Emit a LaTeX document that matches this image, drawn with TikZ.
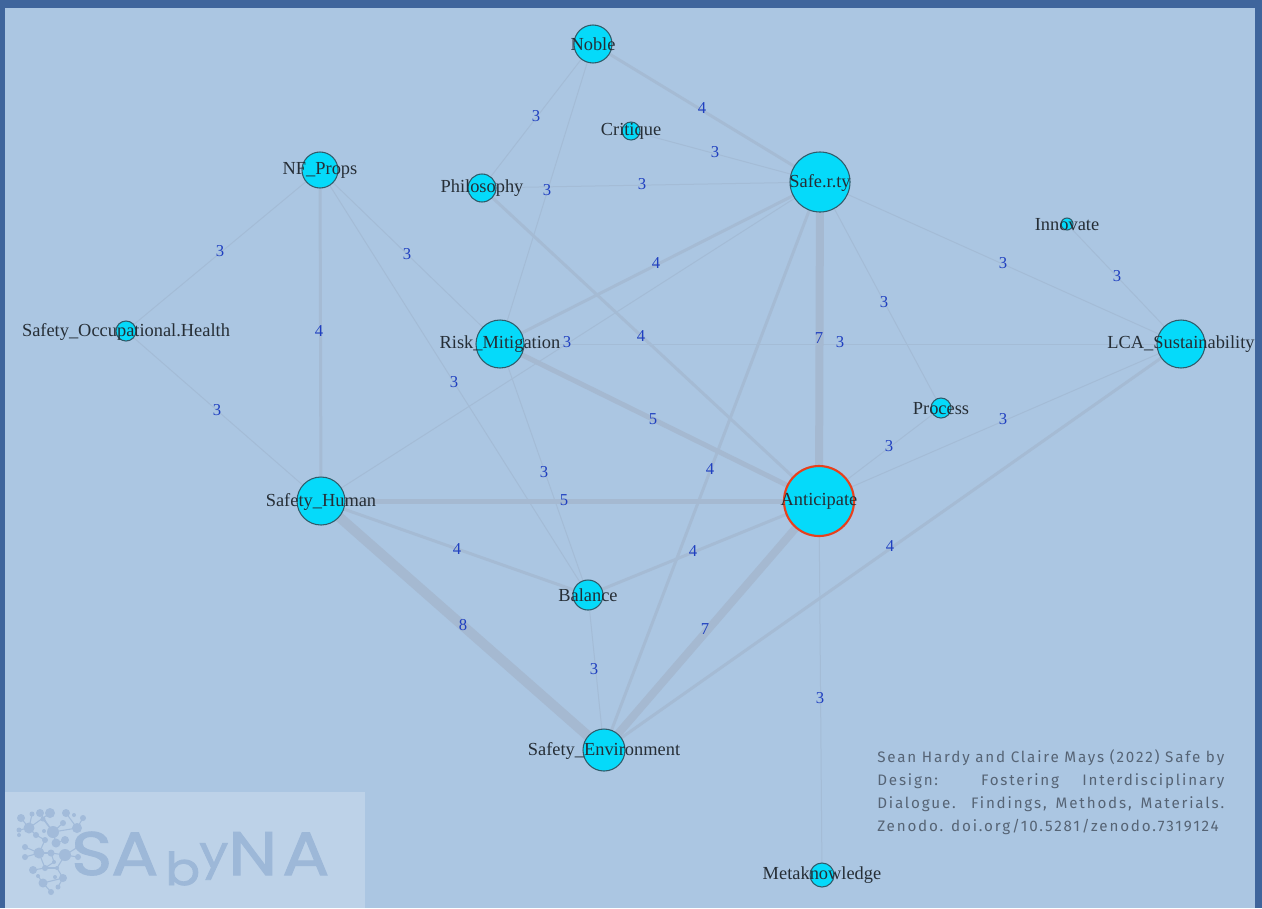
\documentclass[tikz,border=0pt]{standalone}
\usepackage{fontspec}
\setmainfont{Liberation Serif}
\newfontfamily\citefont[LetterSpace=12]{Fira Sans}
\newfontfamily\logofont[FakeBold=1.6,FakeStretch=1.14]{Poppins}
\usetikzlibrary{backgrounds}
\definecolor{framecol}{HTML}{3F659C}
\definecolor{bgcol}{HTML}{ABC6E2}
\definecolor{panelcol}{HTML}{BDD2E8}
\definecolor{logocol}{HTML}{9DB8D8}
\definecolor{dotcol}{HTML}{A2BBDA}
\definecolor{nodecol}{HTML}{05DAFA}
\definecolor{ringcol}{HTML}{2F5B6A}
\definecolor{hotcol}{HTML}{E8401C}
\definecolor{edgelight}{HTML}{A4BCD6}
\definecolor{edgemid}{HTML}{A5BBD4}
\definecolor{edgeheavy}{HTML}{A5B9D1}
\definecolor{numcol}{HTML}{1F3FC0}
\definecolor{namecol}{HTML}{262E36}
\definecolor{citecol}{HTML}{566475}
\tikzset{
  x=0.75pt,y=-0.75pt,
  gcircle/.style={circle,draw=ringcol,fill=nodecol,line width=0.8pt,inner sep=0pt},
  gname/.style={font=\fontsize{13.8}{15}\selectfont,text=namecol,inner sep=0pt,yshift=-0.4pt},
  gnum/.style={font=\fontsize{12.5}{14}\selectfont,text=numcol,inner sep=0pt},
  logoletter/.style={font=\logofont\fontsize{46}{50}\selectfont,text=logocol,inner sep=0pt,anchor=base west},
  logosmall/.style={font=\logofont\fontsize{34}{40}\selectfont,text=logocol,inner sep=0pt,anchor=base west},
  logodot/.style={fill=dotcol,draw=none},
  logoline/.style={draw=dotcol,line width=0.8pt},
  citeline/.style={font=\citefont\fontsize{11.4}{13}\selectfont,text=citecol,inner sep=0pt,anchor=base west},
}
\newcommand{\gnode}[6][gcircle]{%
  \node[#1,minimum size=#5*1.5pt,label={[gname,name=#2-text]center:#6}] (#2) at (#3,#4) {};}
\newcommand{\gedge}[6]{%
  \begin{pgfonlayer}{background}\draw[#4,line width=#3*0.75pt] (#1.center) -- (#2.center);\end{pgfonlayer}%
  \node[gnum,name=#1-#2-num] at (#6) {#5};}
\begin{document}
\begin{tikzpicture}
\useasboundingbox (0,0) rectangle (1262,908);
\begin{scope}[on background layer]
  \fill[framecol] (0,0) rectangle (1262,908);
  \fill[bgcol] (5,8) rectangle (1255,908);
\end{scope}

\gnode{Noble}{593}{44}{19}{Noble}
\gnode{Critique}{631}{131}{9}{Critique}
\gnode{NF}{320}{170}{18}{NF\_Props}
\gnode{Phil}{482}{188}{14}{Philosophy}
\gnode{Safe}{820}{182}{30}{Safe.r.ty}
\gnode{Innov}{1067}{224}{6}{Innovate}
\gnode{Occ}{126}{331}{10}{Safety\_Occupational.Health}
\gnode{Risk}{500}{344}{24}{Risk\_Mitigation}
\gnode{LCA}{1181}{344}{24}{LCA\_Sustainability}
\gnode{Proc}{941}{408}{10}{Process}
\gnode[gcircle,draw=hotcol,line width=1.6pt]{Antic}{819}{501}{35}{Anticipate}
\gnode{Human}{321}{501}{24}{Safety\_Human}
\gnode{Bal}{588}{595}{15}{Balance}
\gnode{Env}{604}{750}{21}{Safety\_Environment}
\gnode{Meta}{822}{875}{12}{Metaknowledge}

\gedge{Noble}{Safe}{3}{edgemid}{4}{702,108}
\gedge{Noble}{Phil}{1}{edgelight}{3}{536,116}
\gedge{Noble}{Risk}{1}{edgelight}{3}{547,190}
\gedge{Critique}{Safe}{1}{edgelight}{3}{715,152}
\gedge{Phil}{Safe}{1}{edgelight}{3}{642,184}
\gedge{Phil}{Antic}{3}{edgemid}{4}{641,336}
\gedge{NF}{Occ}{1}{edgelight}{3}{220,251}
\gedge{NF}{Human}{3}{edgemid}{4}{319,331}
\gedge{NF}{Risk}{1}{edgelight}{3}{407,254}
\gedge{NF}{Bal}{1}{edgelight}{3}{454,382}
\gedge{Occ}{Human}{1}{edgelight}{3}{217,410}
\gedge{Risk}{Safe}{3}{edgemid}{4}{656,263}
\gedge{Risk}{LCA}{1}{edgelight}{3}{840,342}
\gedge{Human}{Safe}{1}{edgelight}{3}{567,342}
\gedge{Safe}{Antic}{8}{edgeheavy}{7}{819,338}
\gedge{Safe}{LCA}{1}{edgelight}{3}{1003,263}
\gedge{Safe}{Proc}{1}{edgelight}{3}{884,302}
\gedge{Safe}{Env}{3}{edgemid}{4}{710,469}
\gedge{Innov}{LCA}{1}{edgelight}{3}{1117,276}
\gedge{Risk}{Antic}{5}{edgeheavy}{5}{653,419}
\gedge{Risk}{Bal}{1}{edgelight}{3}{544,472}
\gedge{Proc}{Antic}{1}{edgelight}{3}{889,446}
\gedge{LCA}{Antic}{1}{edgelight}{3}{1003,419}
\gedge{LCA}{Env}{3}{edgemid}{4}{890,546}
\gedge{Human}{Antic}{5}{edgeheavy}{5}{564,500}
\gedge{Human}{Bal}{3}{edgemid}{4}{457,549}
\gedge{Human}{Env}{10}{edgeheavy}{8}{463,625}
\gedge{Bal}{Antic}{3}{edgemid}{4}{693,551}
\gedge{Bal}{Env}{1}{edgelight}{3}{594,669}
\gedge{Antic}{Env}{8}{edgeheavy}{7}{705,629}
\gedge{Antic}{Meta}{1}{edgelight}{3}{820,698}

% citation
\node[citeline] (cite1) at (877,762) {\makebox[260.25pt][s]{Sean Hardy and Claire Mays (2022) Safe by}};
\node[citeline] (cite2) at (877,785) {\makebox[260.25pt][s]{Design: Fostering Interdisciplinary}};
\node[citeline] (cite3) at (877,808) {\makebox[260.25pt][s]{Dialogue. Findings, Methods, Materials.}};
\node[citeline] (cite4) at (877,831) {Zenodo. doi.org/10.5281/zenodo.7319124};

% logo panel
\fill[panelcol] (5,792) rectangle (365,908);
\foreach \a/\b/\c/\d in {40/813/53/832,50/813/29/828,32/814/29/828,21/818/29/828,43/819/53/832,53/832/77/828,66/813/77/828,63/823/53/832,83/818/77/828,19/830/29/828,29/828/36/835,36/835/45/840,45/840/39/853,56/843/53/832,56/843/65/840,25/847/39/853,39/853/51/853,51/853/65/855,25/857/39/853,39/853/45/868,45/868/33/870,45/868/57/868,57/868/63/878,63/878/43/883,43/883/51/892,43/883/38/876,58/887/63/878,54/862/51/853,54/862/45/868,65/855/57/868,78/847/65/855,78/857/65/855}{
  \draw[logoline] (\a,\b) -- (\c,\d);}
\foreach \a/\b/\r in {50/813/5,40/813/4,32/814/2.5,21/818/4,66/813/4,74/815/2,83/818/3,43/819/2.5,63/823/3,29/828/5.5,19/830/2.5,53/832/6,77/828/5,44/831/2,19/835/2,36/835/3,45/840/3,56/843/4.5,65/840/4,25/847/3,39/853/5.5,51/853/3.5,65/855/6,25/857/3,78/847/3,54/862/2,45/868/3,33/870/4,57/868/2,63/878/4,38/876/2,43/883/4.5,55/877/2,58/887/2.5,51/892/3,78/857/3}{
  \fill[logodot] (\a,\b) circle [radius=\r*0.75pt];}
\node[logoletter] (logoS) at (71,875) {S};
\node[logoletter] (logoA) at (111,875) {A};
\node[logosmall] (logob) at (165,885) {b};
\node[logosmall] (logoy) at (199,868) {y};
\node[logoletter] (logoN) at (228,875) {N};
\node[logoletter] (logoAb) at (282,875) {A};
\end{tikzpicture}
\end{document}
